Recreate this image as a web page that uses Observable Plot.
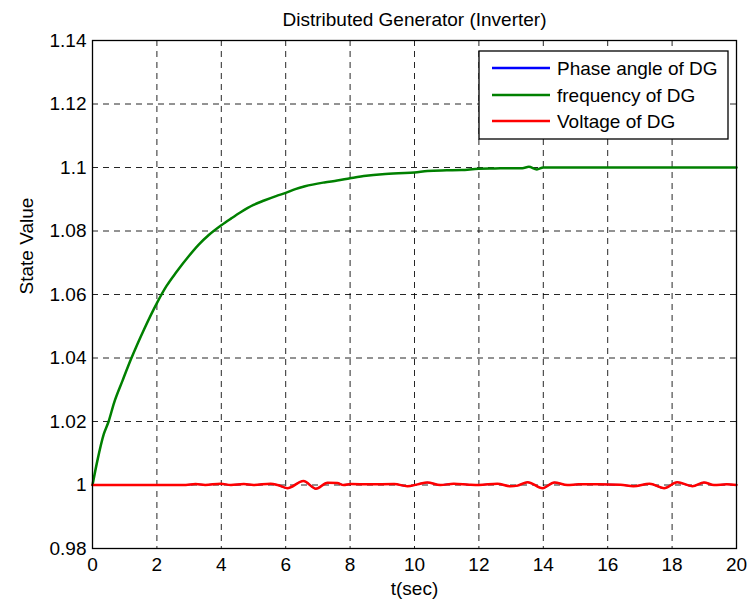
<!DOCTYPE html>
<html><head><meta charset="utf-8">
<script src="https://cdn.jsdelivr.net/npm/d3@7"></script>
<script src="https://cdn.jsdelivr.net/npm/@observablehq/plot@0.6"></script>
<style>
body{margin:0;background:#fff}
svg{font-family:"Liberation Sans",Arial,sans-serif}
</style>
</head><body><div id="chart"></div>
<script>
const title = "Distributed Generator (Inverter)";
const xLabel = "t(sec)";
const yLabel = "State Value";
const xTicks = [0,2,4,6,8,10,12,14,16,18,20];
const yTicks = [0.98,1,1.02,1.04,1.06,1.08,1.1,1.12,1.14];
const seriesNames = ["Phase angle of DG","frequency of DG","Voltage of DG"];
const seriesColors = ["#0000ff","#008000","#ff0000"];

// frequency of DG
const freqT = [0,0.15,0.35,0.5,0.67,0.93,1.19,1.4,1.6,2,2.3,2.6,3,3.3,3.62,4,4.3,4.6,5,5.33,5.7,6,6.3,6.6,7.2,7.6,8,8.5,9,9.5,10,10.4,11,11.45,12,12.5,13,13.35,13.55,13.8,14,16,18,20];
const freqV = [1,1.0076,1.016,1.02,1.0259,1.0328,1.0395,1.0445,1.049,1.0573,1.0627,1.067,1.0722,1.0757,1.0788,1.0818,1.0839,1.0859,1.0882,1.0896,1.091,1.092,1.0932,1.0941,1.0953,1.0959,1.0966,1.0974,1.0979,1.0982,1.0984,1.0989,1.0991,1.0992,1.0996,1.0997,1.0998,1.0998,1.1002,1.0994,1.1,1.1,1.1,1.1];

// Voltage of DG
const voltT = [0,2.9,3.2,3.5,3.98,4.3,4.7,5.0,5.53,5.75,6.05,6.55,6.94,7.3,7.6,7.8,8.02,8.6,9.37,9.78,10.1,10.4,10.8,11.22,11.7,12.0,12.57,12.98,13.2,13.51,13.98,14.34,14.75,15.1,15.7,16.4,16.8,17.3,17.75,18.16,18.63,18.99,19.3,19.7,20];
const voltV = [1,1,1.0003,1,1.0004,1,1.0003,1,1.0004,1,0.999,1.00125,0.99885,1.0007,1.0006,1,1.0003,1.0002,1.0003,0.9996,1.0002,1.0008,1,1.0004,1.0001,1,1.0004,0.9996,0.9998,1.0009,0.999,1.0008,1,1.0002,1.0002,1.0001,0.9996,1.0004,0.999,1.0009,0.9996,1.0008,1,1.0002,1];

// Phase angle of DG (coincides with the voltage trace, fully hidden under it)
const phaseT = [0,2.9,3.2,3.5,3.98,4.3,4.7,5.0,5.53,5.75,6.05,6.55,6.94,7.3,7.6,7.8,8.02,8.6,9.37,9.78,10.1,10.4,10.8,11.22,11.7,12.0,12.57,12.98,13.2,13.51,13.98,14.34,14.75,15.1,15.7,16.4,16.8,17.3,17.75,18.16,18.63,18.99,19.3,19.7,20];
const phaseV = [1,1,1.0003,1,1.0004,1,1.0003,1,1.0004,1,0.999,1.00125,0.99885,1.0007,1.0006,1,1.0003,1.0002,1.0003,0.9996,1.0002,1.0008,1,1.0004,1.0001,1,1.0004,0.9996,0.9998,1.0009,0.999,1.0008,1,1.0002,1.0002,1.0001,0.9996,1.0004,0.999,1.0009,0.9996,1.0008,1,1.0002,1];

const mk = (ts, vs, name) => ts.map((t,i) => ({t, v: vs[i], name}));
const phase = mk(phaseT, phaseV, seriesNames[0]);
const freq = mk(freqT, freqV, seriesNames[1]);
const volt = mk(voltT, voltV, seriesNames[2]);

const fmt = d => String(+d.toFixed(2));
const FS = 19;

const chart = Plot.plot({
  width: 749, height: 600,
  marginLeft: 92, marginRight: 13, marginTop: 40, marginBottom: 52,
  style: {fontFamily: '"Liberation Sans", Arial, sans-serif', fontSize: FS + "px", color: "#000", background: "#fff"},
  x: {domain: [0, 20]},
  y: {domain: [0.98, 1.14]},
  marks: [
    Plot.gridX(xTicks.slice(1, -1), {stroke: "#000", strokeOpacity: 0.85, strokeDasharray: "6,5", strokeWidth: 1}),
    Plot.gridY(yTicks.slice(1, -1), {stroke: "#000", strokeOpacity: 0.85, strokeDasharray: "6,5", strokeWidth: 1}),
    Plot.axisX(xTicks, {tickSize: 0, tickPadding: 9, tickFormat: fmt, label: null, fontSize: FS}),
    Plot.axisY(yTicks, {tickSize: 0, tickPadding: 6, tickFormat: fmt, label: null, fontSize: FS}),
    Plot.line(phase, {x: "t", y: "v", stroke: seriesColors[0], strokeWidth: 1.5, curve: "monotone-x"}),
    Plot.line(freq, {x: "t", y: "v", stroke: seriesColors[1], strokeWidth: 2.5, curve: "monotone-x"}),
    Plot.line(volt, {x: "t", y: "v", stroke: seriesColors[2], strokeWidth: 2.5, curve: "monotone-x"}),
    Plot.frame({stroke: "#000", strokeWidth: 1.3}),
    Plot.text([title], {text: d => d, frameAnchor: "top", dy: -21, lineAnchor: "middle", fontSize: FS}),
    Plot.text([xLabel], {text: d => d, frameAnchor: "bottom", dy: 40, lineAnchor: "middle", fontSize: FS}),
    Plot.text([yLabel], {text: d => d, frameAnchor: "left", dx: -66, rotate: -90, lineAnchor: "middle", fontSize: FS})
  ]
});
document.getElementById("chart").appendChild(chart);

// legend
const svg = d3.select(chart.tagName.toLowerCase() === "svg" ? chart : chart.querySelector("svg"));
const lg = svg.append("g").attr("text-anchor", "start");
const bx = 479, by = 51, bw = 249, bh = 88;
lg.append("rect").attr("x", bx).attr("y", by).attr("width", bw).attr("height", bh)
  .attr("fill", "#fff").attr("stroke", "#000").attr("stroke-width", 1.3);
const rowY = [68, 95, 121];
seriesNames.forEach((name, i) => {
  lg.append("line").attr("x1", bx + 13).attr("x2", bx + 71).attr("y1", rowY[i]).attr("y2", rowY[i])
    .attr("stroke", seriesColors[i]).attr("stroke-width", 2.5);
  lg.append("text").attr("x", bx + 78).attr("y", rowY[i]).attr("dy", "0.35em")
    .attr("text-anchor", "start").attr("font-size", FS).attr("fill", "#000").text(name);
});
</script></body></html>
